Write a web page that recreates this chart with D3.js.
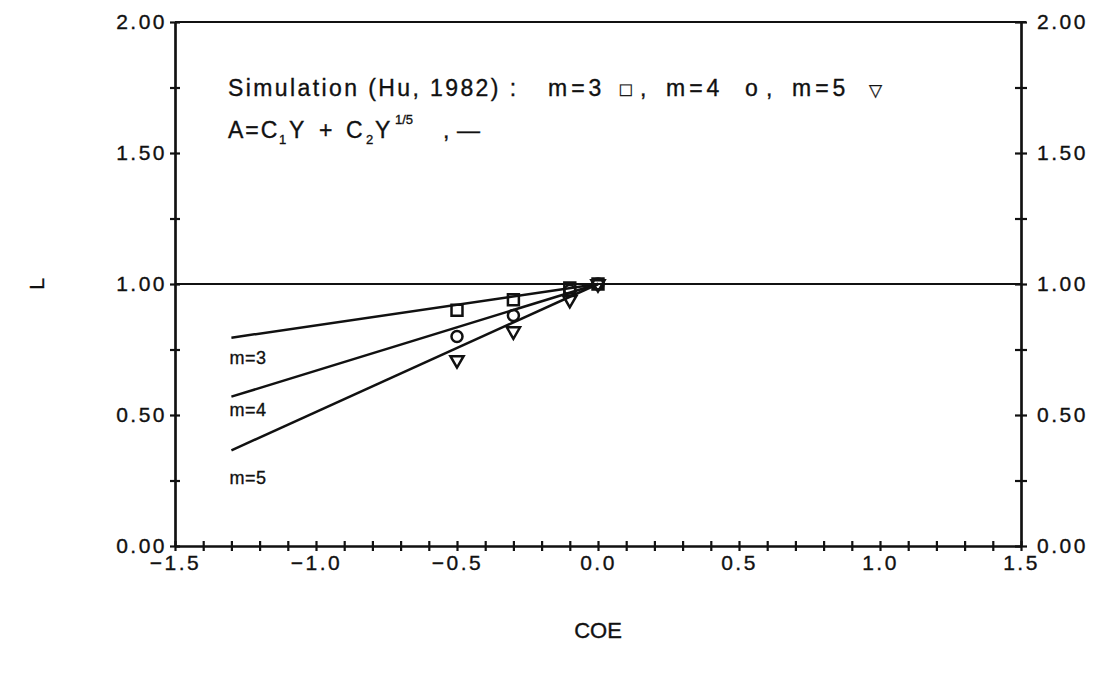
<!DOCTYPE html>
<html>
<head>
<meta charset="utf-8">
<script src="https://cdn.jsdelivr.net/npm/d3@7"></script>
<style>
  body { margin: 0; background: #fff; }
  svg { display: block; }
  text { font-family: "Liberation Sans", Arial, sans-serif; fill: #111; stroke: #111; stroke-width: 0.35px; }
  .axis path, .axis line { stroke: #111; stroke-width: 2.2; }
  .axis text { font-size: 21px; letter-spacing: 2.5px; }
</style>
</head>
<body>
<div id="chart"></div>
<script>
// simulation points (Hu, 1982)
const simCoe = [-0.5, -0.3, -0.1, 0.0];
const simM3 = [0.90, 0.94, 0.985, 1.0];
const simM4 = [0.80, 0.88, 0.975, 1.0];
const simM5 = [0.71, 0.82, 0.94, 1.0];

// fitted curves A = C1*Y + C2*Y^(1/5)
const fitCoe = [-1.3, 0.0];
const fitM3 = [0.795, 1.0];
const fitM4 = [0.57, 1.0];
const fitM5 = [0.365, 1.0];

const xMajor = [-1.5, -1.0, -0.5, 0.0, 0.5, 1.0, 1.5];
const yMajor = [0.0, 0.5, 1.0, 1.5, 2.0];

let width = 1098;
let height = 675;
let plotL = 175, plotR = 1021, plotT = 22, plotB = 546;

let svg = d3.select("#chart").append("svg")
  .attr("width", width)
  .attr("height", height);

let x = d3.scaleLinear().domain([-1.5, 1.5]).range([plotL, plotR]);
let y = d3.scaleLinear().domain([0, 2]).range([plotB, plotT]);

let xTicks = d3.range(-15, 16).map(d => d / 10);
let yTicks = d3.range(0, 9).map(d => d / 4);
let isMajor = (list, d) => list.some(v => Math.abs(v - d) < 1e-9);

// bottom axis, ticks crossing the line
svg.append("g")
  .attr("class", "axis")
  .attr("transform", `translate(0, ${plotB})`)
  .call(d3.axisBottom(x).tickValues(xTicks).tickSizeOuter(0)
    .tickSizeInner(5).tickPadding(4)
    .tickFormat(d => isMajor(xMajor, d) ? d3.format(".1f")(d) : ""));
svg.append("g")
  .attr("class", "axis")
  .attr("transform", `translate(0, ${plotB})`)
  .call(d3.axisTop(x).tickValues(xTicks).tickSizeOuter(0).tickSizeInner(5).tickFormat(""));

// left axis
svg.append("g")
  .attr("class", "axis")
  .attr("transform", `translate(${plotL}, 0)`)
  .call(d3.axisLeft(y).tickValues(yTicks).tickSizeOuter(0)
    .tickSizeInner(5).tickPadding(3)
    .tickFormat(d => isMajor(yMajor, d) ? d3.format(".2f")(d) : ""));
svg.append("g")
  .attr("class", "axis")
  .attr("transform", `translate(${plotL}, 0)`)
  .call(d3.axisRight(y).tickValues(yTicks).tickSizeOuter(0).tickSizeInner(5).tickFormat(""));

// right axis
svg.append("g")
  .attr("class", "axis")
  .attr("transform", `translate(${plotR}, 0)`)
  .call(d3.axisRight(y).tickValues(yTicks).tickSizeOuter(0)
    .tickSizeInner(6).tickPadding(10)
    .tickFormat(d => isMajor(yMajor, d) ? d3.format(".2f")(d) : ""));
svg.append("g")
  .attr("class", "axis")
  .attr("transform", `translate(${plotR}, 0)`)
  .call(d3.axisLeft(y).tickValues(yTicks).tickSizeOuter(0).tickSizeInner(6).tickFormat(""));

// top frame line
svg.append("line")
  .attr("x1", plotL).attr("x2", plotR + 5)
  .attr("y1", y(2)).attr("y2", y(2))
  .attr("stroke", "#111").attr("stroke-width", 2.2);

// reference line at L = 1
svg.append("line")
  .attr("x1", plotL).attr("x2", plotR)
  .attr("y1", y(1)).attr("y2", y(1))
  .attr("stroke", "#111").attr("stroke-width", 1.8);

// fitted lines
let line = d3.line().x(d => x(d[0])).y(d => y(d[1]));
[fitM3, fitM4, fitM5].forEach(vals => {
  svg.append("path")
    .datum(fitCoe.map((c, i) => [c, vals[i]]))
    .attr("d", line)
    .attr("fill", "none")
    .attr("stroke", "#111")
    .attr("stroke-width", 2.5);
});

// markers
let sym = {
  square: d3.symbol().type(d3.symbolSquare).size(120),
  circle: d3.symbol().type(d3.symbolCircle).size(95),
  triangle: d3.symbol().type(d3.symbolTriangle).size(75)
};
let series = [
  { vals: simM3, shape: "square", rot: 0 },
  { vals: simM4, shape: "circle", rot: 0 },
  { vals: simM5, shape: "triangle", rot: 180 }
];
series.forEach(s => {
  svg.append("g").selectAll("path")
    .data(simCoe.map((c, i) => [c, s.vals[i]]))
    .enter()
    .append("path")
    .attr("d", sym[s.shape])
    .attr("transform", d => `translate(${x(d[0])}, ${y(d[1])}) rotate(${s.rot})`)
    .attr("fill", "none")
    .attr("stroke", "#111")
    .attr("stroke-width", 2.5);
});

// curve labels
let labels = [["m=3", 0.72], ["m=4", 0.52], ["m=5", 0.26]];
svg.selectAll(".mlab")
  .data(labels)
  .enter()
  .append("text")
  .attr("class", "mlab")
  .attr("x", x(-1.3) - 2)
  .attr("y", d => y(d[1]))
  .attr("dy", "0.35em")
  .attr("font-size", 18)
  .attr("letter-spacing", 0.5)
  .text(d => d[0]);

// legend, first line
let leg = svg.append("text")
  .attr("y", 96)
  .attr("font-size", 23);
leg.append("tspan").attr("x", 228).attr("letter-spacing", 2.4).text("Simulation (Hu, 1982) :");
leg.append("tspan").attr("x", 548).attr("letter-spacing", 4).text("m=3");
leg.append("tspan").attr("x", 620).attr("font-size", 19).text("\u25A1");
leg.append("tspan").attr("x", 640).text(",");
leg.append("tspan").attr("x", 666).attr("letter-spacing", 4).text("m=4");
leg.append("tspan").attr("x", 745).text("o");
leg.append("tspan").attr("x", 766).text(",");
leg.append("tspan").attr("x", 792).attr("letter-spacing", 4).text("m=5");
leg.append("tspan").attr("x", 869).attr("font-size", 17).text("\u25BD");

// legend, second line: the fitted expression
let eq = svg.append("text")
  .attr("font-size", 23);
eq.append("tspan").attr("x", 228).attr("y", 138).attr("letter-spacing", 2).text("A=C");
eq.append("tspan").attr("x", 279).attr("y", 144).attr("font-size", 13).text("1");
eq.append("tspan").attr("x", 289).attr("y", 138).text("Y");
eq.append("tspan").attr("x", 319).attr("y", 138).text("+");
eq.append("tspan").attr("x", 346).attr("y", 138).text("C");
eq.append("tspan").attr("x", 366).attr("y", 144).attr("font-size", 13).text("2");
eq.append("tspan").attr("x", 375).attr("y", 138).text("Y");
eq.append("tspan").attr("x", 395).attr("y", 124).attr("font-size", 13).text("1/5");
eq.append("tspan").attr("x", 443).attr("y", 138).text(",");
eq.append("tspan").attr("x", 457).attr("y", 138).text("\u2014");

// axis titles
svg.append("text")
  .attr("transform", `translate(44, ${y(1)}) rotate(-90)`)
  .attr("text-anchor", "middle")
  .attr("font-size", 21)
  .text("L");

svg.append("text")
  .attr("x", x(0)).attr("y", 638)
  .attr("text-anchor", "middle")
  .attr("font-size", 22)
  .text("COE");
</script>
</body>
</html>
